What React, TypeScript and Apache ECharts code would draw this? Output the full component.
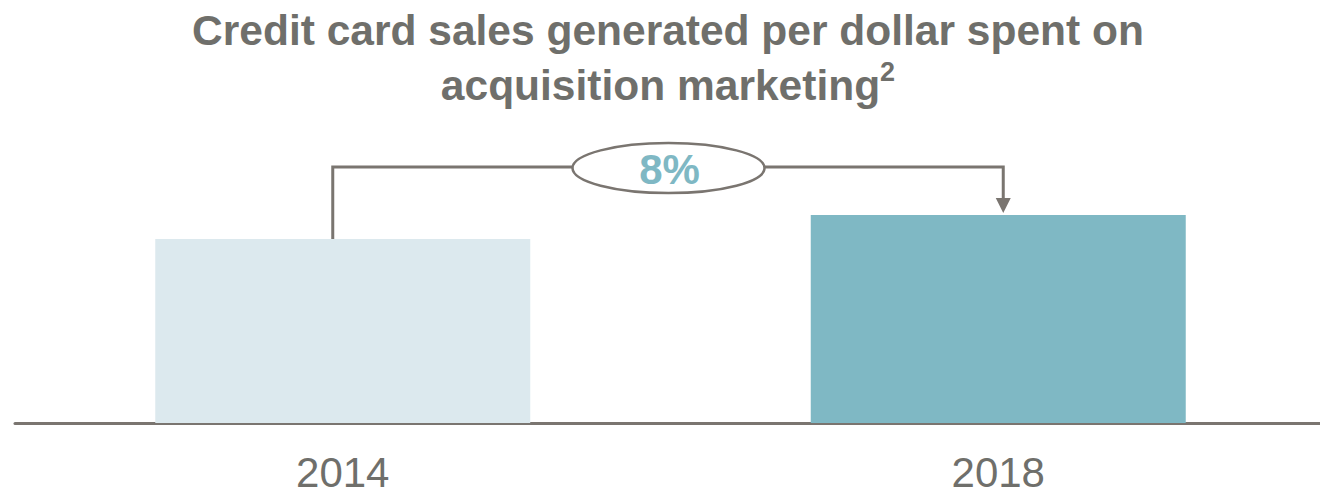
import React, { useEffect, useRef } from "react";
import * as echarts from "echarts";

const categories = ["2014", "2018"];
const values = [1.0, 1.13];
const barColors = ["#dce9ee", "#7fb8c4"];
const changeLabel = "8%";
const titleLine1 = "Credit card sales generated per dollar spent on";
const titleLine2 = "acquisition marketing";
const titleSup = "2";

export default function App() {
  const ref = useRef<HTMLDivElement>(null);
  useEffect(() => {
    const chart = echarts.init(ref.current!, null, { renderer: "svg" });
    const FONT = '"Liberation Sans", Arial, Helvetica, sans-serif';
    const textGray = "#6f6f6b";
    const lineGray = "#7a7570";
    chart.setOption({
      animation: false,
      grid: { left: 15, right: 0, top: 147, height: 276 },
      xAxis: {
        type: "category",
        data: categories,
        axisLine: { show: true, lineStyle: { color: lineGray, width: 3 } },
        axisTick: { show: false },
        axisLabel: {
          color: textGray,
          fontSize: 42,
          lineHeight: 42,
          fontFamily: FONT,
          margin: 28,
        },
      },
      yAxis: {
        type: "value",
        min: 0,
        max: 1.5,
        show: false,
        splitLine: { show: false },
      },
      series: [
        {
          type: "bar",
          barWidth: 375,
          data: values.map((v, i) => ({ value: v, itemStyle: { color: barColors[i] } })),
          silent: true,
        },
      ],
    });

    const p0 = chart.convertToPixel({ gridIndex: 0 }, [0, values[0]]) as number[];
    const p1 = chart.convertToPixel({ gridIndex: 0 }, [1, values[1]]) as number[];
    const xl = p0[0] - 10;
    const xr = p1[0] + 5;
    const yH = p1[1] - 48;
    const cx = (p0[0] + p1[0]) / 2 - 2;
    const cy = yH + 1;

    chart.setOption({
      graphic: [
        {
          type: "text",
          x: 668,
          y: 3,
          style: {
            text: `${titleLine1}\n${titleLine2}{sup|${titleSup}}`,
            fill: textGray,
            fontSize: 42.5,
            fontWeight: "bold",
            fontFamily: FONT,
            lineHeight: 55,
            align: "center",
            verticalAlign: "top",
            rich: {
              sup: {
                fontSize: 27,
                fontWeight: "bold",
                fontFamily: FONT,
                fill: textGray,
                lineHeight: 47,
                verticalAlign: "top",
              },
            },
          },
        },
        {
          type: "polyline",
          z: 10,
          shape: {
            points: [
              [xl, p0[1]],
              [xl, yH],
              [xr, yH],
              [xr, p1[1] - 16],
            ],
          },
          style: { stroke: lineGray, lineWidth: 3, fill: null },
        },
        {
          type: "polygon",
          z: 10,
          shape: {
            points: [
              [xr - 7.5, p1[1] - 17],
              [xr + 7.5, p1[1] - 17],
              [xr, p1[1] - 2],
            ],
          },
          style: { fill: lineGray },
        },
        {
          type: "ellipse",
          z: 11,
          shape: { cx, cy, rx: 96, ry: 25 },
          style: { fill: "#ffffff", stroke: lineGray, lineWidth: 2.5 },
        },
        {
          type: "text",
          z: 12,
          x: cx + 1,
          y: cy + 1,
          style: {
            text: changeLabel,
            fill: "#7fb8c4",
            fontSize: 42,
            fontWeight: "bold",
            fontFamily: FONT,
            align: "center",
            verticalAlign: "middle",
          },
        },
      ],
    });

    return () => chart.dispose();
  }, []);
  return (
    <div
      style={{
        position: "absolute",
        left: 0,
        top: 0,
        width: 1320,
        height: 495,
        overflow: "hidden",
      }}
    >
      <div ref={ref} style={{ width: 1326, height: 495 }} />
    </div>
  );
}
